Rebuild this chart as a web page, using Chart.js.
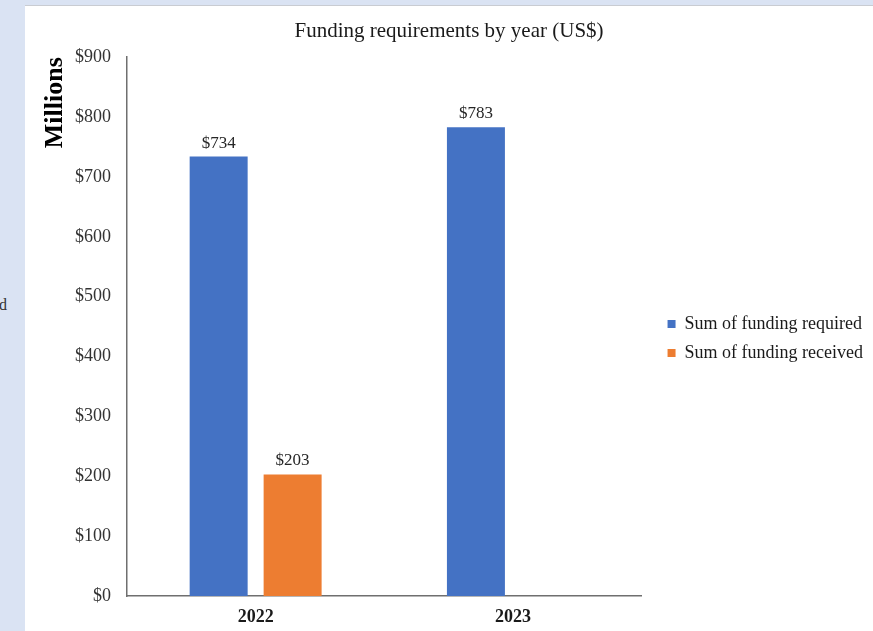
<!DOCTYPE html>
<html>
<head>
<meta charset="utf-8">
<script src="https://cdn.jsdelivr.net/npm/chart.js@4"></script>
<style>
  html, body { margin: 0; padding: 0; }
  body { width: 873px; height: 631px; background: #dae3f3; position: relative; overflow: hidden; }
  #panel { position: absolute; left: 25px; top: 5px; width: 848px; height: 626px; background: #fff; border-top: 1px solid #c9ccd2; box-sizing: border-box; }
  #side { position: absolute; left: -1px; top: 296px; font: 16px "Liberation Serif", serif; color: #333; }
  canvas { display: block; }
</style>
</head>
<body>
<div id="side">d</div>
<div id="panel"><canvas id="chart" width="848" height="625"></canvas></div>
<script>
const years = ['2022', '2023'];
const fundingRequired = [734, 783];
const fundingReceived = [203, null];
const seriesNames = ['Sum of funding required', 'Sum of funding received'];
const yTicks = [0, 100, 200, 300, 400, 500, 600, 700, 800, 900];

const serif = '"Liberation Serif", "Times New Roman", serif';

// "$734" style labels above each bar
const valueLabels = {
  id: 'valueLabels',
  afterDatasetsDraw(chart) {
    const ctx = chart.ctx;
    ctx.save();
    ctx.font = '17px ' + serif;
    ctx.fillStyle = '#262626';
    ctx.textAlign = 'center';
    ctx.textBaseline = 'alphabetic';
    chart.data.datasets.forEach((ds, i) => {
      chart.getDatasetMeta(i).data.forEach((bar, j) => {
        if (ds.data[j] == null) return;
        ctx.fillText('$' + ds.data[j], bar.x, bar.y - 9);
      });
    });
    ctx.restore();
  }
};

// the legend is wider than chart.js normally allows a side box to be
const wideLegend = {
  id: 'wideLegend',
  beforeLayout(chart) {
    const lg = chart.legend;
    if (!lg || lg._wide) return;
    const fit = lg.fit;
    lg.fit = function () { this.maxWidth = 300; fit.call(this); };
    lg._wide = true;
  }
};

new Chart(document.getElementById('chart'), {
  type: 'bar',
  data: {
    labels: years,
    datasets: [
      { label: seriesNames[0], data: fundingRequired, backgroundColor: '#4472c4' },
      { label: seriesNames[1], data: fundingReceived, backgroundColor: '#ed7d31' }
    ]
  },
  options: {
    responsive: false,
    animation: false,
    barPercentage: 0.784,
    categoryPercentage: 0.575,
    layout: { padding: 0 },
    plugins: {
      title: {
        display: true,
        text: 'Funding requirements by year (US$)',
        color: '#1a1a1a',
        font: { family: serif, size: 21, weight: 'normal' },
        padding: { top: 13, bottom: 13 }
      },
      legend: {
        position: 'right',
        title: { display: true, text: ' ', font: { size: 10 }, padding: { top: 14, bottom: 14 } },
        labels: {
          boxWidth: 8,
          boxHeight: 8,
          padding: 11,
          color: '#1a1a1a',
          font: { family: serif, size: 18 }
        }
      },
      tooltip: { enabled: false }
    },
    scales: {
      x: {
        afterFit(axis) { axis.height = 35; },
        grid: { display: false, drawTicks: false },
        border: { color: '#6f6f6f', width: 1.5 },
        ticks: { color: '#1a1a1a', font: { family: serif, size: 18, weight: 'bold' }, padding: 11 }
      },
      y: {
        min: 0,
        max: 900,
        afterBuildTicks(axis) { axis.ticks = yTicks.map(v => ({ value: v })); },
        afterFit(axis) { axis.width = 102; },
        grid: { display: false, drawTicks: false },
        border: { color: '#6f6f6f', width: 1.5 },
        ticks: { color: '#333', font: { family: serif, size: 18 }, padding: 16, callback: v => '$' + v },
        title: {
          display: true,
          text: 'Millions',
          align: 'end',
          color: '#000',
          font: { family: serif, size: 26, weight: 'bold' },
          padding: { top: 15, bottom: 4 }
        }
      },
      // spacer between the plot and the legend
      gap: {
        axis: 'y',
        position: 'right',
        display: true,
        grid: { display: false, drawTicks: false },
        border: { display: false },
        ticks: { display: false },
        afterFit(axis) { axis.width = 15; }
      }
    }
  },
  plugins: [valueLabels, wideLegend]
});
</script>
</body>
</html>
